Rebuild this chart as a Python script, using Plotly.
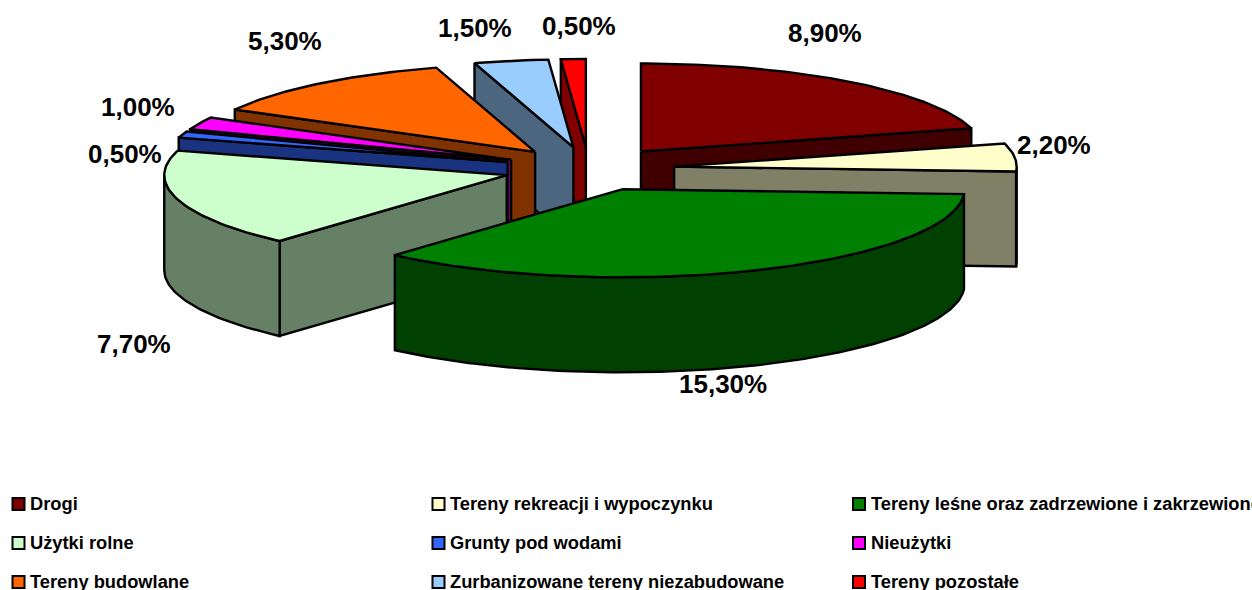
import math
import plotly.graph_objects as go

# ---- data ----
categories = ["Drogi", "Tereny rekreacji i wypoczynku", "Tereny leśne oraz zadrzewione i zakrzewione",
              "Użytki rolne", "Grunty pod wodami", "Nieużytki",
              "Tereny budowlane", "Zurbanizowane tereny niezabudowane", "Tereny pozostałe"]
values = [8.9, 2.2, 15.3, 7.7, 0.5, 1.0, 5.3, 1.5, 0.5]
value_labels = ["8,90%", "2,20%", "15,30%", "7,70%", "0,50%", "1,00%", "5,30%", "1,50%", "0,50%"]

# ---- style ----
top_colors = ["#800000", "#FFFFCC", "#008000", "#CCFFCC", "#3366FF", "#FF00FF", "#FF6600", "#99CCFF", "#FF0000"]
side_colors = ["#400000", "#808066", "#004000", "#668066", "#1A3380", "#800080", "#803300", "#4D6680", "#800000"]
label_xy = [(825, 33), (1054, 145), (723, 384), (134, 344), (125, 154), (138, 107), (285, 41), (475, 28), (579, 26)]
CX, CY, RX, RY, DEPTH, EXPLODE = 589.0, 169.0, 342.5, 88.0, 95.0, 0.25
LW = 2.4
paint_order = [8, 7, 6, 5, 4, 3, 0, 1, 2]
legend_cols = [12.5, 432.5, 853]
legend_rows = [504, 543, 582]

total = sum(values)
bounds = [0.0]
for v in values:
    bounds.append(bounds[-1] + v / total * 360)


def pt(ax, ay, deg, dz=0.0):
    r = math.radians(deg)
    return ax + RX * math.sin(r), ay - RY * math.cos(r) + dz


def arc(ax, ay, a, b, dz=0.0):
    n = max(2, int(abs(b - a)) + 2)
    return [pt(ax, ay, a + (b - a) * i / (n - 1), dz) for i in range(n)]


fig = go.Figure()


def poly(points, color):
    xs = [p[0] for p in points] + [points[0][0]]
    ys = [p[1] for p in points] + [points[0][1]]
    fig.add_trace(go.Scatter(x=xs, y=ys, mode="lines", fill="toself", fillcolor=color,
                             line=dict(color="black", width=LW), hoverinfo="skip", showlegend=False))


for i in paint_order:
    a, b = bounds[i], bounds[i + 1]
    mid = math.radians((a + b) / 2)
    ax = CX + EXPLODE * RX * math.sin(mid)
    ay = CY - EXPLODE * RY * math.cos(mid)
    # visible cut faces
    for ang, ok in ((a, math.sin(math.radians(a)) < -1e-6), (b, math.sin(math.radians(b)) > 1e-6)):
        if ok:
            p = pt(ax, ay, ang)
            q = pt(ax, ay, ang, DEPTH)
            poly([(ax, ay), p, q, (ax, ay + DEPTH)], side_colors[i])
    # visible outer rim
    lo, hi = max(a, 90), min(b, 270)
    if hi > lo:
        poly(arc(ax, ay, lo, hi) + arc(ax, ay, hi, lo, DEPTH), side_colors[i])
    # top face
    poly([(ax, ay)] + arc(ax, ay, a, b), top_colors[i])

annotations = []
for txt, (x, y) in zip(value_labels, label_xy):
    annotations.append(dict(x=x, y=y, xref="x", yref="y", text=f"<b>{txt}</b>", showarrow=False,
                            xanchor="center", yanchor="middle",
                            font=dict(family="Liberation Sans", size=26, color="black")))
shapes = []
for i, name in enumerate(categories):
    lx = legend_cols[i % 3]
    ly = legend_rows[i // 3]
    shapes.append(dict(type="rect", xref="x", yref="y", x0=lx, x1=lx + 12, y0=ly - 6, y1=ly + 6,
                       fillcolor=top_colors[i], line=dict(color="black", width=2)))
    annotations.append(dict(x=lx + 15.5, y=ly - 1, xref="x", yref="y", text=f"<b>{name}</b>", showarrow=False,
                            xanchor="left", yanchor="middle",
                            font=dict(family="Liberation Sans", size=18.3, color="black")))

fig.update_layout(
    width=1252, height=590, margin=dict(l=0, r=0, t=0, b=0),
    paper_bgcolor="white", plot_bgcolor="white", showlegend=False,
    xaxis=dict(range=[0, 1252], visible=False, fixedrange=True),
    yaxis=dict(range=[590, 0], visible=False, fixedrange=True),
    annotations=annotations, shapes=shapes,
)
fig.write_html("out.html", config={"displayModeBar": False},
               post_script="document.body.style.margin='0';document.body.style.overflow='hidden';")
